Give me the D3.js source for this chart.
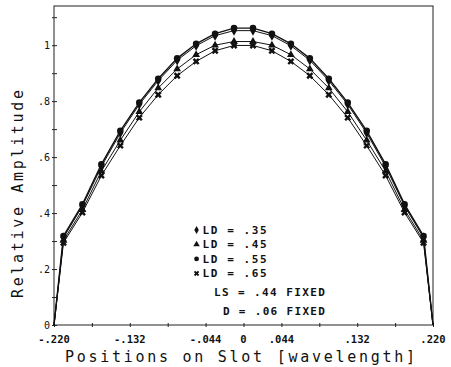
<!DOCTYPE html>
<html>
<head>
<meta charset="utf-8">
<script src="https://cdn.jsdelivr.net/npm/d3@7"></script>
<style>
  body { margin: 0; background: #fff; }
  svg { display: block; }
  text { fill: #111; }
</style>
</head>
<body>
<svg id="chart" width="451" height="367"></svg>
<script>
// slot positions (half, mirrored) and amplitudes per LD
const halfPos = [0.209, 0.187, 0.165, 0.143, 0.121, 0.099, 0.077, 0.055, 0.033, 0.011];
const edge = 0.22;
const ld35 = [0.312, 0.425, 0.566, 0.686, 0.788, 0.873, 0.946, 0.998, 1.034, 1.052];
const ld45 = [0.302, 0.412, 0.550, 0.660, 0.762, 0.847, 0.915, 0.966, 1.000, 1.013];
const ld55 = [0.318, 0.431, 0.574, 0.694, 0.795, 0.880, 0.953, 1.005, 1.041, 1.061];
const ld65 = [0.294, 0.402, 0.534, 0.641, 0.741, 0.823, 0.891, 0.942, 0.980, 0.999];
const seriesNames = ['LD = .35', 'LD = .45', 'LD = .55', 'LD = .65'];
const xTicks = [-0.22, -0.132, -0.044, 0, 0.044, 0.132, 0.22];
const xTickLabels = ['-.220', '-.132', '-.044', '0', '.044', '.132', '.220'];
const yTicks = [0, 0.2, 0.4, 0.6, 0.8, 1];
const yTickLabels = ['0', '.2', '.4', '.6', '.8', '1'];
const notes = ['LS = .44 FIXED', 'D = .06 FIXED'];

const svg = d3.select('#chart');
const margin = { top: 6, right: 18, bottom: 42, left: 54 };
const width = 451 - margin.left - margin.right;
const height = 367 - margin.top - margin.bottom;

const x = d3.scaleLinear().domain([-0.22, 0.22]).range([0, width]);
const y = d3.scaleLinear().domain([0, 1.14]).range([height, 0]);

const g = svg.append('g').attr('transform', `translate(${margin.left},${margin.top})`);

// frame
g.append('rect')
  .attr('width', width).attr('height', height)
  .attr('fill', 'none').attr('stroke', '#222').attr('stroke-width', 1);

// y axis ticks (every .1), labels every .2
g.append('g')
  .call(d3.axisLeft(y).tickValues(d3.range(0, 1.11, 0.1)).tickSize(3).tickFormat(''))
  .call(a => a.select('.domain').remove())
  .call(a => a.selectAll('line').attr('x2', 3).attr('x1', -2).attr('stroke', '#222'));

g.selectAll('text.ylab')
  .data(yTicks)
  .enter().append('text')
  .attr('class', 'ylab')
  .attr('x', -4)
  .attr('y', d => y(d) + 3.5)
  .attr('text-anchor', 'end')
  .attr('font-family', 'DejaVu Sans Mono')
  .attr('font-size', 10)
  .text((d, i) => yTickLabels[i]);

// x axis ticks
g.append('g')
  .attr('transform', `translate(0,${height})`)
  .call(d3.axisBottom(x).tickValues(d3.range(-0.22, 0.2201, 0.044)).tickSize(3).tickFormat(''))
  .call(a => a.select('.domain').remove())
  .call(a => a.selectAll('line').attr('y1', -2).attr('y2', 2).attr('stroke', '#222'));

g.selectAll('text.xlab')
  .data(xTicks)
  .enter().append('text')
  .attr('class', 'xlab')
  .attr('x', d => x(d))
  .attr('y', height + 18)
  .attr('text-anchor', 'middle')
  .attr('font-family', 'DejaVu Sans Mono')
  .attr('font-weight', 'bold')
  .attr('font-size', 10.5)
  .text((d, i) => xTickLabels[i]);

// axis titles
svg.append('text')
  .attr('x', 240).attr('y', 362)
  .attr('text-anchor', 'middle')
  .attr('font-family', 'DejaVu Sans Mono')
  .attr('font-size', 15)
  .attr('textLength', 350).attr('lengthAdjust', 'spacing')
  .text('Positions on Slot [wavelength]');

svg.append('text')
  .attr('transform', 'translate(23,194) rotate(-90)')
  .attr('text-anchor', 'middle')
  .attr('font-family', 'DejaVu Sans Mono')
  .attr('font-size', 15)
  .attr('textLength', 208).attr('lengthAdjust', 'spacing')
  .text('Relative Amplitude');

// build series
const allSeries = [ld35, ld45, ld55, ld65].map(vals => {
  const pts = halfPos.map((p, i) => ({ x: -p, y: vals[i] }));
  const right = halfPos.slice().reverse().map((p, i) => ({ x: p, y: vals[vals.length - 1 - i] }));
  return pts.concat(right);
});

const symbols = [d3.symbolDiamond, d3.symbolTriangle, d3.symbolCircle, d3.symbolCross];
const symRot = [0, 0, 0, 45];
const symSize = [30, 26, 34, 30];

const line = d3.line().x(d => x(d.x)).y(d => y(d.y));

allSeries.forEach((pts, k) => {
  const full = [{ x: -edge, y: 0 }].concat(pts, [{ x: edge, y: 0 }]);
  g.append('path')
    .datum(full)
    .attr('d', line)
    .attr('fill', 'none')
    .attr('stroke', '#111')
    .attr('stroke-width', k === 2 ? 1.4 : 1);

  g.selectAll(`path.m${k}`)
    .data(pts)
    .enter().append('path')
    .attr('class', `m${k}`)
    .attr('transform', d => `translate(${x(d.x)},${y(d.y)}) rotate(${symRot[k]})`)
    .attr('d', d3.symbol().type(symbols[k]).size(symSize[k]))
    .attr('fill', '#111');
});

// legend
const leg = g.append('g').attr('transform', `translate(${x(-0.0545)},${y(0.345) + 1.5})`);
seriesNames.forEach((name, k) => {
  const row = leg.append('g').attr('transform', `translate(0,${k * 14.5})`);
  row.append('path')
    .attr('transform', `rotate(${symRot[k]})`)
    .attr('d', d3.symbol().type(symbols[k]).size(18))
    .attr('fill', '#111');
  row.append('text')
    .attr('x', 6).attr('y', 4)
    .attr('font-family', 'DejaVu Sans Mono')
    .attr('font-weight', 'bold')
    .attr('font-size', 11)
    .attr('textLength', 64).attr('lengthAdjust', 'spacing')
    .text(name);
});

const noteLen = [111, 102];
notes.forEach((t, i) => {
  g.append('text')
    .attr('x', x(0.0945)).attr('y', y(0.115) + 3 + i * 19)
    .attr('text-anchor', 'end')
    .attr('font-family', 'DejaVu Sans Mono')
    .attr('font-weight', 'bold')
    .attr('font-size', 11)
    .attr('textLength', noteLen[i]).attr('lengthAdjust', 'spacing')
    .text(t);
});
</script>
</body>
</html>
